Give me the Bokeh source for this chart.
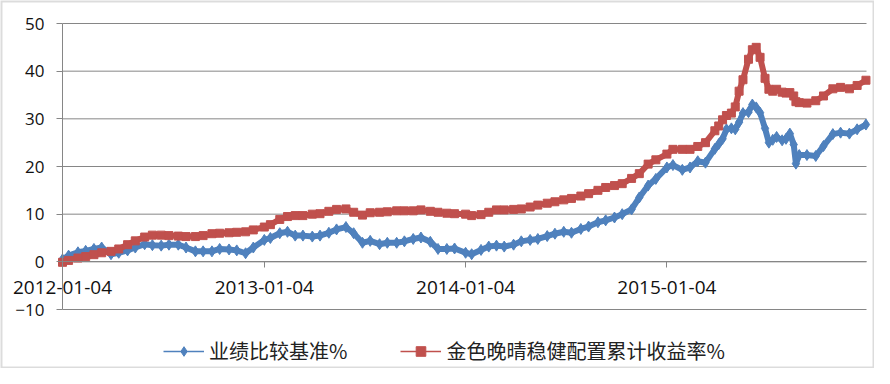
import pandas as pd
from bokeh.plotting import figure
from bokeh.models import (ColumnDataSource, FixedTicker, DatetimeTickFormatter,
                          Range1d, Legend, LegendItem, BoxAnnotation)
from bokeh.embed import file_html
from bokeh.resources import INLINE

dates = [
    "2012-01-04", "2012-01-15", "2012-02-01", "2012-02-15", "2012-03-01", "2012-03-15",
    "2012-04-01", "2012-04-15", "2012-05-01", "2012-05-15", "2012-06-01", "2012-06-15",
    "2012-07-01", "2012-07-15", "2012-08-01", "2012-08-15", "2012-09-01", "2012-09-15",
    "2012-10-01", "2012-10-15", "2012-11-01", "2012-11-15", "2012-12-01", "2012-12-15",
    "2013-01-04", "2013-01-15", "2013-02-01", "2013-02-15", "2013-03-01", "2013-03-15",
    "2013-04-01", "2013-04-15", "2013-05-01", "2013-05-15", "2013-06-01", "2013-06-15",
    "2013-07-01", "2013-07-15", "2013-08-01", "2013-08-15", "2013-09-01", "2013-09-15",
    "2013-10-01", "2013-10-15", "2013-11-01", "2013-11-15", "2013-12-01", "2013-12-15",
    "2014-01-04", "2014-01-15", "2014-02-01", "2014-02-15", "2014-03-01", "2014-03-15",
    "2014-04-01", "2014-04-15", "2014-05-01", "2014-05-15", "2014-06-01", "2014-06-15",
    "2014-07-01", "2014-07-15", "2014-08-01", "2014-08-15", "2014-09-01", "2014-09-15",
    "2014-10-01", "2014-10-15", "2014-11-01", "2014-11-15", "2014-12-01", "2014-12-15",
    "2015-01-04", "2015-01-15", "2015-02-01", "2015-02-15", "2015-03-01", "2015-03-15",
    "2015-04-01", "2015-04-08", "2015-04-15", "2015-04-22", "2015-05-01", "2015-05-08",
    "2015-05-15", "2015-05-22", "2015-06-01", "2015-06-08", "2015-06-15", "2015-06-22",
    "2015-07-01", "2015-07-08", "2015-07-15", "2015-07-22", "2015-08-01", "2015-08-08",
    "2015-08-15", "2015-08-22", "2015-08-26", "2015-09-01", "2015-09-15", "2015-10-01",
    "2015-10-15", "2015-11-01", "2015-11-15", "2015-12-01", "2015-12-15", "2015-12-31",
]

benchmark = [
    0.5, 1.3, 2.0, 2.3, 2.7, 3.0,
    1.6, 1.9, 2.4, 3.0, 3.7, 3.5,
    3.4, 3.6, 3.6, 3.0, 2.2, 2.2,
    2.2, 2.7, 2.6, 2.4, 1.8, 3.0,
    4.6, 5.0, 6.0, 6.3, 5.5, 5.5,
    5.3, 5.5, 6.1, 6.8, 7.3, 6.0,
    4.0, 4.4, 3.7, 4.0, 4.0, 4.3,
    4.8, 5.1, 4.2, 2.7, 2.7, 2.8,
    1.9, 1.6, 2.5, 3.2, 3.4, 3.2,
    3.6, 4.3, 4.6, 4.8, 5.4, 5.9,
    6.3, 6.1, 6.9, 7.4, 8.3, 8.7,
    9.3, 10.0, 11.0, 13.5, 16.0, 17.4,
    19.8, 20.3, 19.3, 19.8, 21.1, 20.8,
    23.7, 24.7, 25.8, 27.8, 28.0, 27.8,
    29.3, 31.2, 31.4, 33.0, 32.4, 31.3,
    28.0, 25.0, 25.6, 26.2, 25.5, 25.8,
    26.9, 24.6, 20.6, 22.4, 22.4, 22.2,
    24.3, 26.8, 27.1, 26.9, 27.8, 28.8,
]

fund = [
    -0.1, 0.3, 0.8, 1.1, 1.5, 1.9,
    2.2, 2.7, 3.6, 4.4, 5.2, 5.6,
    5.6, 5.5, 5.4, 5.3, 5.3, 5.5,
    5.9, 6.0, 6.1, 6.2, 6.3, 6.7,
    7.3, 7.8, 8.9, 9.5, 9.7, 9.7,
    10.0, 10.1, 10.6, 11.0, 11.1, 10.4,
    9.8, 10.3, 10.4, 10.5, 10.7, 10.7,
    10.7, 10.9, 10.6, 10.4, 10.2, 10.1,
    10.0, 9.7, 9.9, 10.4, 10.9, 10.9,
    11.0, 11.1, 11.5, 11.9, 12.3, 12.6,
    13.0, 13.3, 13.8, 14.3, 15.0, 15.6,
    16.0, 16.4, 17.5, 18.5, 20.5, 21.4,
    22.6, 23.6, 23.6, 23.6, 24.2, 25.0,
    27.5, 28.5, 29.8, 30.7, 31.2, 32.5,
    35.8, 38.2, 42.5, 44.5, 45.0, 42.9,
    38.5, 36.2, 35.8, 36.2, 35.6, 35.4,
    35.5, 34.8, 33.6, 33.4, 33.3, 33.8,
    34.8, 36.3, 36.6, 36.3, 37.0, 38.1,
]

series_names = ["业绩比较基准%", "金色晚晴稳健配置累计收益率%"]
tick_dates = ["2012-01-04", "2013-01-04", "2014-01-04", "2015-01-04"]
axis_end_date = "2016-01-01"
y_ticks = [-10, 0, 10, 20, 30, 40, 50]

BLUE = "#4F81BD"
RED = "#C0504D"
GRID = "#868686"
BORDER = "#8a8a8a"
LATIN = "Open Sans"
CJK = "Noto Sans CJK SC"

# ---- layout (pixels); the frame covers the whole canvas ----
W, H = 874, 368
AXIS_X, PLOT_R = 62, 866        # y-axis line and right end of plot area
Y_TOP_PX, Y_BOT_PX = 23, 309    # pixel rows of 50 and -10

def ms(d):
    return pd.Timestamp(d).value // 10**6

t0, t_end = ms(tick_dates[0]), ms(axis_end_date)
px_ms = (t_end - t0) / (PLOT_R - AXIS_X)
x_start = t0 - px_ms * AXIS_X
x_stop = t_end + px_ms * (W - PLOT_R)
ppu = (Y_BOT_PX - Y_TOP_PX) / (max(y_ticks) - min(y_ticks))
y_end = max(y_ticks) + Y_TOP_PX / ppu
y_start = min(y_ticks) - (H - Y_BOT_PX) / ppu

src = ColumnDataSource(dict(x=pd.to_datetime(dates), b=benchmark, f=fund))

p = figure(width=W, height=H, output_backend="svg", toolbar_location=None,
           x_axis_type="datetime",
           x_range=Range1d(x_start, x_stop), y_range=Range1d(y_start, y_end),
           min_border=0)
p.outline_line_color = None
p.background_fill_color = "white"
p.border_fill_color = "white"
p.xgrid.grid_line_color = None
p.ygrid.grid_line_color = None

# horizontal gridlines restricted to the plot area
n = len(y_ticks)
p.segment(x0=[pd.Timestamp(tick_dates[0])] * n, x1=[pd.Timestamp(axis_end_date)] * n,
          y0=y_ticks, y1=y_ticks, line_color=GRID, line_width=1)

# series
p.line("x", "b", source=src, color=BLUE, line_width=6)
p.scatter("x", "b", source=src, marker="diamond", size=11, color=BLUE)
p.line("x", "f", source=src, color=RED, line_width=6)
p.scatter("x", "f", source=src, marker="square", size=8, color=RED)

# y axis, fixed at the first date
p.yaxis.fixed_location = t0
p.yaxis.bounds = (min(y_ticks), max(y_ticks))
p.yaxis.ticker = FixedTicker(ticks=y_ticks)
p.yaxis.axis_line_color = GRID
p.yaxis.major_tick_line_color = GRID
p.yaxis.major_tick_out = 6
p.yaxis.major_tick_in = 0
p.yaxis.minor_tick_line_color = None
p.yaxis.major_label_standoff = 12
p.yaxis.major_label_text_font = LATIN
p.yaxis.major_label_text_font_size = "17px"
p.yaxis.major_label_text_color = "#111111"

# x axis, fixed on the zero line
fmt = "%Y-%m-%d"
p.xaxis.fixed_location = 0
p.xaxis.bounds = (t0, t_end)
p.xaxis.ticker = FixedTicker(ticks=[ms(d) for d in tick_dates])
p.xaxis.formatter = DatetimeTickFormatter(days=fmt, months=fmt, years=fmt,
                                          hours=fmt, hourmin=fmt, minutes=fmt)
p.xaxis.axis_line_color = GRID
p.xaxis.major_tick_line_color = GRID
p.xaxis.major_tick_out = 6
p.xaxis.major_tick_in = 0
p.xaxis.minor_tick_line_color = None
p.xaxis.major_label_standoff = 13
p.xaxis.major_label_text_font = LATIN
p.xaxis.major_label_text_font_size = "19px"
p.xaxis.major_label_text_color = "#111111"

# legend (sample renderers with a single NaN point so only the key shows)
nan_src = ColumnDataSource(dict(x=[float("nan")], y=[float("nan")]))
lb = p.line("x", "y", source=nan_src, color=BLUE, line_width=1.5)
mb = p.scatter("x", "y", source=nan_src, marker="diamond", size=8, color=BLUE)
lr = p.line("x", "y", source=nan_src, color=RED, line_width=1.5)
mr = p.scatter("x", "y", source=nan_src, marker="square", size=7, color=RED)

legend = Legend(items=[LegendItem(label=series_names[0], renderers=[lb, mb]),
                       LegendItem(label=series_names[1], renderers=[lr, mr])],
                orientation="horizontal", location=(163, 3),
                border_line_color=None, background_fill_alpha=0,
                padding=0, margin=0, spacing=53, label_standoff=5,
                glyph_width=41, glyph_height=24,
                label_text_font=CJK, label_text_font_size="20px",
                label_text_color="#222222")
p.add_layout(legend, "center")

# outer chart border
p.add_layout(BoxAnnotation(fill_alpha=0, line_color=BORDER, line_width=4))

open("out.html", "w").write(file_html(p, INLINE))
